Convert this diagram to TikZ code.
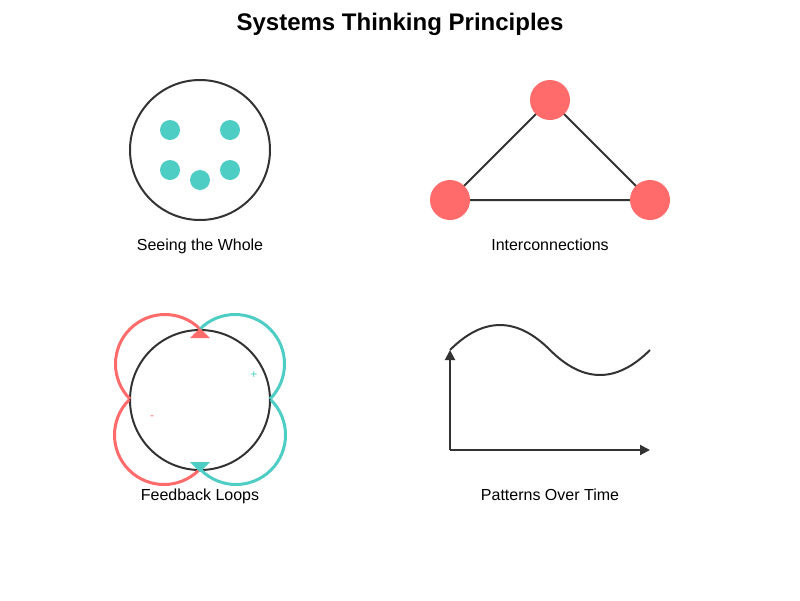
\documentclass[tikz,border=0pt]{standalone}
\usepackage{fontspec}
\setmainfont{Liberation Sans}
\usepackage{tikz}
\usetikzlibrary{arrows.meta,positioning,calc}
\definecolor{DARK}{HTML}{333333}
\definecolor{TEAL}{HTML}{4ECDC4}
\definecolor{CORAL}{HTML}{FF6B6B}
\tikzstyle{BIG_CIRCLE} = [circle, draw=DARK, line width=2pt, minimum size=140pt, inner sep=0pt]
\tikzstyle{DOT} = [circle, fill=TEAL, minimum size=20pt, inner sep=0pt]
\tikzstyle{HUB} = [circle, fill=CORAL, minimum size=40pt, inner sep=0pt]
\tikzstyle{LABEL} = [anchor=base, font=\fontsize{16}{19}\selectfont]
\tikzstyle{LINE} = [draw=DARK, line width=2pt]
\tikzstyle{AXIS} = [draw=DARK, line width=2pt, -{Triangle[length=10pt,width=10pt]}]
\tikzstyle{LOOP} = [line width=3pt]

\begin{document}
\begin{tikzpicture}[x=1pt, y=-1pt]
\useasboundingbox (0,0) rectangle (800,600);
% Title
\node [anchor=base, font=\bfseries\fontsize{24}{28}\selectfont] (TITLE) at (400,30) {Systems Thinking Principles};
% Seeing the whole
\node [BIG_CIRCLE] (WHOLE) at (200,150) {};
\node [DOT] (DOT_1) at (170,130) {};
\node [DOT] (DOT_2) at (230,130) {};
\node [DOT] (DOT_3) at (170,170) {};
\node [DOT] (DOT_4) at (230,170) {};
\node [DOT] (DOT_5) at (200,180) {};
\node [LABEL] (L_WHOLE) at (200,250) {Seeing the Whole};
% Interconnections
\coordinate (C_TOP) at (550,100);
\coordinate (C_LEFT) at (450,200);
\coordinate (C_RIGHT) at (650,200);
\path [LINE] (C_TOP) -- (C_LEFT) -- (C_RIGHT) -- cycle;
\node [HUB] (HUB_TOP) at (C_TOP) {};
\node [HUB] (HUB_LEFT) at (C_LEFT) {};
\node [HUB] (HUB_RIGHT) at (C_RIGHT) {};
\node [LABEL] (L_INTER) at (550,250) {Interconnections};
% Feedback loops
\node [BIG_CIRCLE] (LOOPS) at (200,400) {};
\draw [LOOP, CORAL] (LOOPS.north) arc[start angle=-45, end angle=-225, radius=49.5];
\draw [LOOP, CORAL] (LOOPS.west) arc[start angle=225, end angle=45, radius=49.5];
\draw [LOOP, TEAL] (LOOPS.north) arc[start angle=-135, end angle=45, radius=49.5];
\draw [LOOP, TEAL] (LOOPS.east) arc[start angle=-45, end angle=135, radius=49.5];
\fill [CORAL] (LOOPS.north) ++(0,-1) -- ++(10,10) -- ++(-20,0) -- cycle;
\fill [TEAL] (LOOPS.south) ++(0,1) -- ++(10,-10) -- ++(-20,0) -- cycle;
\node [TEAL, font=\fontsize{12}{14}\selectfont] (PLUS) at (254,375) {+};
\node [CORAL, font=\fontsize{12}{14}\selectfont] (MINUS) at (152,418) {-};
\node [LABEL] (L_LOOPS) at (200,500) {Feedback Loops};
% Patterns over time
\coordinate (ORIGIN) at (450,450);
\coordinate (Y_END) at (450,350);
\coordinate (X_END) at (650,450);
\path [AXIS] (ORIGIN) -- (Y_END);
\path [AXIS] (ORIGIN) -- (X_END);
\draw [LINE] (Y_END) .. controls (483.3,316.7) and (516.7,316.7) .. (550,350)
  .. controls (583.3,383.3) and (616.7,383.3) .. (650,350);
\node [LABEL] (L_TIME) at (550,500) {Patterns Over Time};
\end{tikzpicture}
\end{document}
